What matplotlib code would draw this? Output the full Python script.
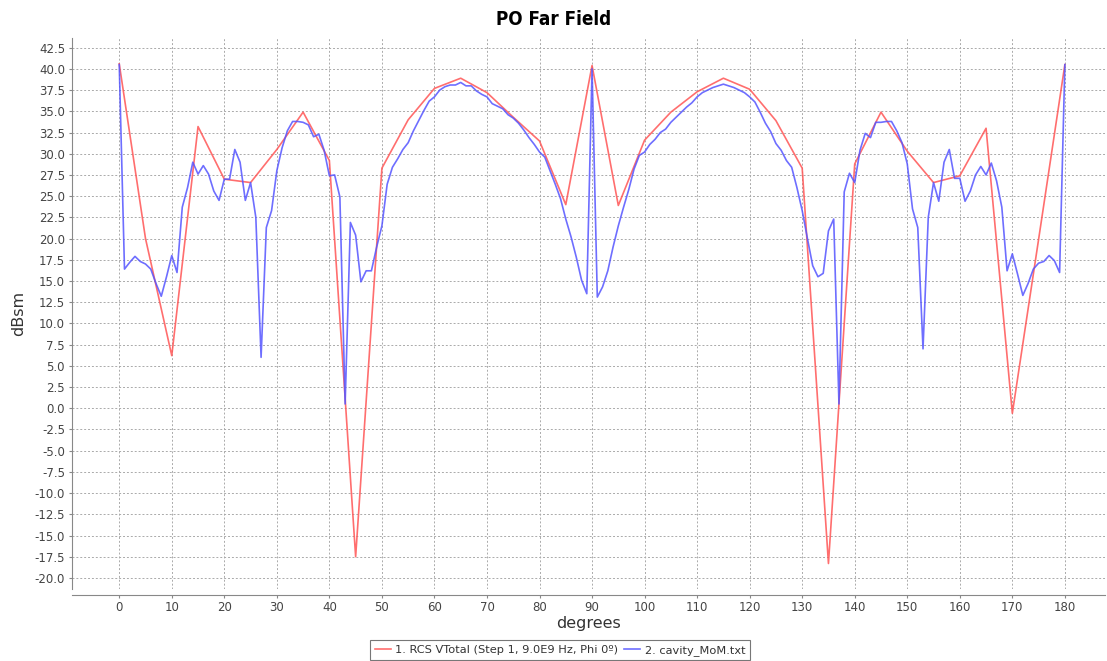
import numpy as np
import matplotlib
matplotlib.use('Agg')
import matplotlib.pyplot as plt
from matplotlib.ticker import MultipleLocator, FormatStrFormatter


# PO result, sampled every 5 degrees
po_deg = list(range(0, 181, 5))
po_dbsm = [40.6, 20.0, 6.2, 33.2, 27.0, 26.6, 30.5, 34.9, 29.2, -17.5,
           28.3, 34.0, 37.7, 38.9, 37.2, 34.3, 31.5, 24.0, 40.4, 23.9,
           31.6, 34.9, 37.3, 38.9, 37.6, 33.9, 28.3, -18.3, 28.8, 34.9,
           30.3, 26.6, 27.4, 33.0, -0.6, 19.9, 40.5]

# MoM reference, sampled every degree
mom_deg = list(range(0, 181))
mom_dbsm = [
    40.5, 16.4, 17.2, 17.9, 17.3, 17.0, 16.4, 14.7, 13.2, 15.5,
    18.0, 16.0, 23.7, 26.0, 29.0, 27.6, 28.6, 27.6, 25.6, 24.5,
    27.0, 27.0, 30.5, 29.0, 24.5, 26.6, 22.5, 6.0, 21.3, 23.3,
    28.0, 30.7, 32.7, 33.8, 33.8, 33.7, 33.4, 32.0, 32.3, 30.4,
    27.4, 27.5, 24.9, 0.5, 21.9, 20.4, 14.9, 16.2, 16.2, 19.0,
    21.5, 26.4, 28.4, 29.4, 30.5, 31.3, 32.7, 33.9, 35.1, 36.2,
    36.7, 37.5, 37.9, 38.1, 38.1, 38.4, 38.0, 38.0, 37.4, 37.0,
    36.7, 35.9, 35.6, 35.3, 34.6, 34.2, 33.6, 32.8, 31.9, 31.1,
    30.2, 29.6, 28.0, 26.4, 24.7, 22.3, 20.2, 17.8, 15.1, 13.5,
    40.0, 13.1, 14.3, 16.2, 19.0, 21.5, 23.7, 25.8, 28.2, 29.8,
    30.2, 31.1, 31.7, 32.5, 32.9, 33.7, 34.3, 34.9, 35.5, 36.0,
    36.7, 37.2, 37.5, 37.8, 38.0, 38.2, 38.0, 37.8, 37.5, 37.2,
    36.7, 36.1, 34.9, 33.6, 32.6, 31.2, 30.4, 29.2, 28.4, 26.0,
    23.3, 20.0, 16.8, 15.5, 15.9, 20.9, 22.3, 0.5, 25.5, 27.7,
    26.6, 30.4, 32.4, 31.9, 33.7, 33.7, 33.8, 33.8, 32.7, 31.3,
    28.8, 23.5, 21.3, 7.0, 22.5, 26.6, 24.4, 29.0, 30.5, 27.1,
    27.1, 24.4, 25.6, 27.5, 28.5, 27.5, 28.9, 26.8, 23.7, 16.2,
    18.2, 15.8, 13.3, 14.7, 16.4, 17.1, 17.3, 18.0, 17.4, 16.0,
    40.5]

series_labels = ['1. RCS VTotal (Step 1, 9.0E9 Hz, Phi 0º)', '2. cavity_MoM.txt']

plt.rcParams['font.family'] = ['DejaVu Sans']

fig = plt.figure(figsize=(11.07, 6.61), dpi=100)
ax = fig.add_axes([0.065, 0.109, 0.933, 0.833])

ax.plot(po_deg, po_dbsm, color='#FF5555', lw=1.2, alpha=0.85, label=series_labels[0])
ax.plot(mom_deg, mom_dbsm, color='#5555FF', lw=1.2, alpha=0.85, label=series_labels[1])

ax.set_xlim(-9, 187.6)
ax.set_ylim(-21.3, 43.6)
ax.xaxis.set_major_locator(MultipleLocator(10))
ax.yaxis.set_major_locator(MultipleLocator(2.5))
ax.yaxis.set_major_formatter(FormatStrFormatter('%.1f'))

ax.grid(True, color='#aaaaaa', linestyle=(0, (2, 2)), lw=0.7)
ax.set_axisbelow(True)

for s in ['top', 'right']:
    ax.spines[s].set_visible(False)
ax.spines['left'].set_color('#888888')
ax.spines['bottom'].set_color('#888888')
ax.spines['bottom'].set_position(('outward', 4))
ax.tick_params(axis='both', length=2, color='#888888', labelcolor='#444444', labelsize=8.5, pad=3)

ax.set_xlabel('degrees', fontsize=11.5, color='#333333', labelpad=1)
ax.set_ylabel('dBsm', fontsize=11.5, color='#333333', labelpad=6)

fig.suptitle('PO Far Field', fontsize=13.5, fontweight='bold', fontstretch='condensed', y=0.985)

leg = fig.legend(loc='upper center', bbox_to_anchor=(0.506, 0.04), ncol=2, fontsize=8.2,
                 frameon=True, fancybox=False, handlelength=1.4, handletextpad=0.4,
                 columnspacing=0.5, borderpad=0.4, edgecolor='#555555')
leg.get_frame().set_linewidth(0.8)
for t in leg.get_texts():
    t.set_color('#333333')

fig.savefig('out.png', dpi=100)
